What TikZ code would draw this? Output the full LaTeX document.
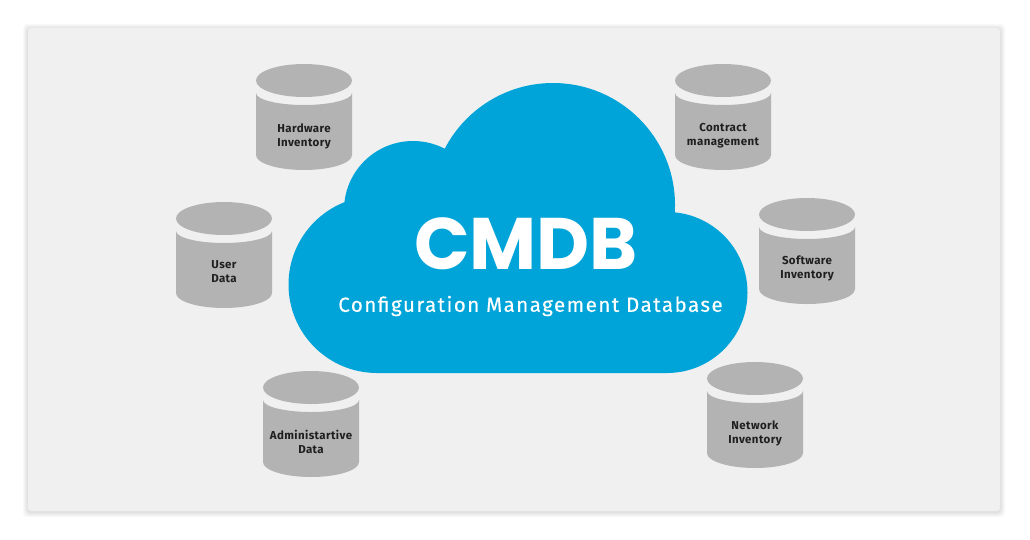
\documentclass[tikz,border=0pt]{standalone}
\usepackage{fontspec}
\setmainfont{Fira Sans}
\newfontfamily\titlefont{Poppins}
\newfontfamily\subfont[LetterSpace=7.2,FakeBold=0.35]{Fira Sans}
\newfontfamily\labelfont[LetterSpace=3.5]{Fira Sans}
\definecolor{panel}{HTML}{F0F0F0}
\definecolor{cloudblue}{HTML}{00A4D8}
\definecolor{drum}{HTML}{B3B3B3}
\tikzset{
  x=1pt,y=-1pt,
  dblabel/.style={font=\labelfont\bfseries\fontsize{11.5}{14}\selectfont,text=black!88,align=center,inner sep=0pt},
  lobe/.style={fill=cloudblue},
  halo/.style={fill=black,fill opacity=0.022,rounded corners=4pt},
}
% #1 x of the axis, #2 y of the top, #3 node name, #4 label y, #5 label
\newcommand{\drumat}[5]{%
  \begin{scope}[shift={(#1,#2)}]
    \fill[drum] (-48,29) .. controls (-48,35.6) and (-26.4,41) .. (0,41)
      .. controls (26.4,41) and (48,35.6) .. (48,29) -- (48,91)
      .. controls (48,99.3) and (26.4,106) .. (0,106)
      .. controls (-26.4,106) and (-48,99.3) .. (-48,91) -- cycle;
    \fill[drum] (0,16.5) ellipse[x radius=48,y radius=16.5];
  \end{scope}
  \node[dblabel] (#3) at (#1,#4) {#5};
}
\begin{document}
\begin{tikzpicture}
\useasboundingbox (0,0) rectangle (1030,539);
\fill[white] (0,0) rectangle (1030,539);
% soft shadow of the panel
\foreach \g in {5,4,3,2,1}{
  \path[halo] (28-\g,28-\g+1) rectangle (1000+\g,511+\g+1);
}
\node[minimum width=972pt,minimum height=483pt,inner sep=0pt,fill=panel,rounded corners=3pt] (panelbox) at (514,269.5) {};
% cloud
\fill[lobe] (377,284.5) circle[radius=88.5];
\fill[lobe] (413,210) circle[radius=69];
\fill[lobe] (553,205) circle[radius=122];
\fill[lobe] (667,292.5) circle[radius=80.5];
\fill[lobe] (377,373) -- (667,373) -- (667,212) -- (553,205) -- (413,210) -- (377,285) -- cycle;
\node[font=\titlefont\bfseries\fontsize{73}{73}\selectfont,text=white,inner sep=0pt] (title) at (526,243.5) {CMDB};
\node[font=\subfont\fontsize{20.5}{20.5}\selectfont,text=white,inner sep=0pt] (subtitle) at (530.5,306) {Configuration Management Database};
% drums
\drumat{304}{64}{hardware}{136.5}{Hardware\\Inventory}
\drumat{723}{64}{contract}{135.5}{Contract\\management}
\drumat{224}{202}{user}{272}{User\\Data}
\drumat{807}{198}{software}{268}{Software\\Inventory}
\drumat{755}{362}{network}{433}{Network\\Inventory}
\drumat{311}{371}{admin}{442}{Administartive\\Data}
\end{tikzpicture}
\end{document}
